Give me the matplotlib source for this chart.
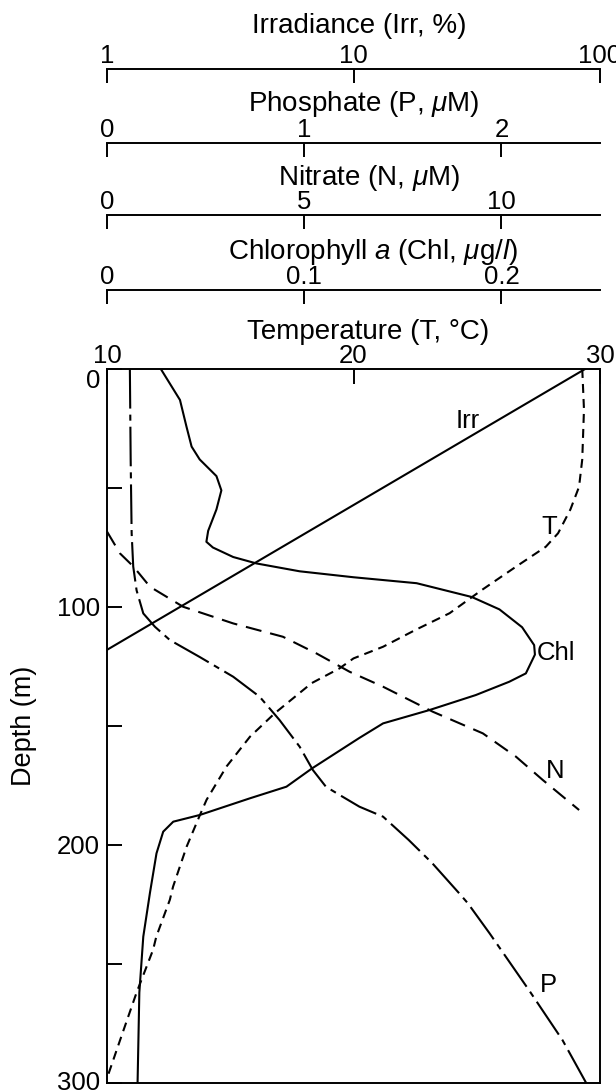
import matplotlib
matplotlib.use("Agg")
import matplotlib.pyplot as plt
from matplotlib.ticker import NullLocator, FixedLocator, FixedFormatter

plt.rcParams['font.family'] = ['Liberation Sans', 'DejaVu Sans']
plt.rcParams['mathtext.fontset'] = 'custom'
plt.rcParams['mathtext.rm'] = 'Liberation Sans'
plt.rcParams['mathtext.it'] = 'Liberation Sans:italic'

# ---------------- data ----------------
# Irradiance (% of surface), log scale
irr_depth = [0, 118]
irr_val = [87, 1.0]

# Chlorophyll a (ug/l)
chl_depth = [0, 13, 24.2, 32.6, 38, 45, 51, 59, 68, 72.6, 75, 79, 81.7, 85, 87.5,
             90, 95.8, 101, 108.5, 116, 120, 127.9, 131.4, 137, 143.3, 148.9, 155,
             167.8, 175.5, 180.4, 187.4, 190.2, 194.4, 203.5, 220, 238.5, 262, 300]
chl_val = [0.0273, 0.037, 0.0403, 0.0429, 0.047, 0.0555, 0.058, 0.0555, 0.0513, 0.0504,
           0.0537, 0.064, 0.0758, 0.0977, 0.125, 0.157, 0.185, 0.199, 0.2105, 0.2166,
           0.217, 0.2124, 0.204, 0.187, 0.1635, 0.14, 0.128, 0.104, 0.091, 0.0724,
           0.047, 0.0336, 0.0285, 0.0251, 0.0218, 0.0184, 0.0164, 0.0155]

# Temperature (deg C)
t_depth = [0, 17, 38, 49.5, 59, 69, 74.7, 83, 92.9, 102.6, 109.7, 116.7, 121.6, 125.8,
           132, 144.7, 154.5, 167, 181, 187.4, 200.7, 217.5, 223, 238.5, 244, 262, 282, 298]
t_val = [29.28, 29.35, 29.28, 29.15, 28.8, 28.3, 27.8, 26.6, 25.2, 23.9, 22.5, 21.2, 20.0,
         19.43, 18.3, 16.8, 15.8, 14.85, 14.04, 13.77, 13.23, 12.68, 12.55, 12.0, 11.87,
         11.2, 10.53, 10.0]

# Nitrate (uM)
n_depth = [68.3, 77.5, 83, 91.5, 99.9, 106.9, 112.5, 119.5, 127.2, 133.5, 144, 153.1,
           162.9, 172.7, 185.3]
n_val = [0, 0.33, 0.67, 1.09, 1.93, 3.2, 4.46, 5.31, 6.15, 7.0, 8.26, 9.53, 10.37,
         11.05, 11.97]

# Phosphate (uM)
p_depth = [0, 38, 69, 83, 93, 102.7, 108.3, 113.9, 121, 129.3, 137.7, 147.5, 158.7,
           168.5, 175.5, 179, 183.9, 188.1, 197.9, 207.7, 220.3, 224.5, 237.1, 261, 282, 300]
p_val = [0.116, 0.12, 0.125, 0.133, 0.15, 0.184, 0.243, 0.319, 0.47, 0.64, 0.774, 0.875,
         0.977, 1.044, 1.11, 1.18, 1.28, 1.40, 1.53, 1.65, 1.786, 1.83, 1.94, 2.14, 2.31, 2.43]

# axis ticks
t_ticks = [10, 20, 30]
depth_major = [0, 100, 200, 300]
depth_minor = [50, 150, 250]
irr_ticks = [1, 10, 100]
p_ticks = [0, 1, 2]
n_ticks = [0, 5, 10]
chl_ticks = [0, 0.1, 0.2]
chl_ticklabels = ['0', '0.1', '0.2']

# ---------------- figure ----------------
W, H = 616, 1092
fig = plt.figure(figsize=(W / 100, H / 100), dpi=100)

def fx(px):
    return px / W

def fy(py):
    return 1 - py / H

LEFT, RIGHT, TOP, BOTTOM = 107, 600, 369, 1083
LW = 1.5
FS = 18.5

ax = fig.add_axes([fx(LEFT), fy(BOTTOM), (RIGHT - LEFT) / W, (BOTTOM - TOP) / H])
ax.set_xlim(10, 30)
ax.set_ylim(300, 0)

# twin axes for the other variables (created first: twiny resets tick sides)
a_irr = ax.twiny()
a_irr.set_xscale('log')
a_irr.set_xlim(1, 100)
a_irr.axis('off')

a_chl = ax.twiny()
a_chl.set_xlim(0, 0.25)
a_chl.axis('off')

a_n = ax.twiny()
a_n.set_xlim(0, 12.5)
a_n.axis('off')

a_p = ax.twiny()
a_p.set_xlim(0, 2.5)
a_p.axis('off')

for s in ax.spines.values():
    s.set_linewidth(1.4)
ax.xaxis.set_ticks_position('top')
ax.xaxis.set_label_position('top')
ax.set_xticks(t_ticks)
ax.set_xticklabels([str(v) for v in t_ticks])
ax.tick_params(axis='x', direction='in', length=11, width=1.4, pad=0.5,
               labelsize=FS, top=True, bottom=False, labeltop=True, labelbottom=False)
ax.set_yticks(depth_major)
ax.set_yticklabels([str(v) for v in depth_major])
ax.set_yticks(depth_minor, minor=True)
ax.tick_params(axis='y', which='both', direction='in', length=11, width=1.4,
               pad=5, labelsize=FS, right=False)
ax.set_ylabel('Depth (m)', fontsize=19.5)
ax.yaxis.set_label_coords((37 - LEFT) / (RIGHT - LEFT), 0.5)
ylabs = ax.get_yticklabels()
ylabs[0].set_va('top')
ylabs[-1].set_va('center')

# curves
ax.plot(t_val, t_depth, color='black', lw=LW, dashes=(4.3, 2.9))
a_irr.plot(irr_val, irr_depth, color='black', lw=LW)
a_chl.plot(chl_val, chl_depth, color='black', lw=LW)
a_n.plot(n_val, n_depth, color='black', lw=LW, dashes=(7.7, 4.3))
a_p.plot(p_val, p_depth, color='black', lw=LW, dashes=(19, 2.9, 2.9, 2.9))

# curve labels (temperature / depth coordinates)
lab_fs = 18.5
ax.text(24.62, 24.8, 'Irr', ha='center', va='baseline', fontsize=lab_fs)
ax.text(27.94, 69.3, 'T', ha='center', va='baseline', fontsize=lab_fs)
ax.text(28.2, 122.3, 'Chl', ha='center', va='baseline', fontsize=lab_fs)
ax.text(28.17, 171.8, 'N', ha='center', va='baseline', fontsize=lab_fs)
ax.text(27.9, 261.6, 'P', ha='center', va='baseline', fontsize=lab_fs)

# ---------------- top scale bars ----------------
def scale_bar(yline, xlim, ticks, labels, log=False):
    h = 0.0002
    sa = fig.add_axes([fx(LEFT), fy(yline) - h, (RIGHT - LEFT) / W, h])
    sa.patch.set_visible(False)
    if log:
        sa.set_xscale('log')
    sa.set_xlim(*xlim)
    for k in ('left', 'right', 'bottom'):
        sa.spines[k].set_visible(False)
    sa.spines['top'].set_linewidth(1.4)
    sa.yaxis.set_major_locator(NullLocator())
    sa.yaxis.set_minor_locator(NullLocator())
    sa.xaxis.tick_top()
    sa.xaxis.set_major_locator(FixedLocator(ticks))
    sa.xaxis.set_major_formatter(FixedFormatter(labels))
    sa.xaxis.set_minor_locator(NullLocator())
    sa.tick_params(axis='x', direction='in', length=10, width=1.4, pad=0.5,
                   labelsize=FS, top=True, bottom=False)
    return sa

scale_bar(69, (1, 100), irr_ticks, [str(v) for v in irr_ticks], log=True)
scale_bar(143, (0, 2.5), p_ticks, [str(v) for v in p_ticks])
scale_bar(215, (0, 12.5), n_ticks, [str(v) for v in n_ticks])
scale_bar(290, (0, 0.25), chl_ticks, chl_ticklabels)

# titles
TFS = 20
fig.text(fx(252), fy(33), 'Irradiance (Irr, %)', ha='left', va='baseline', fontsize=TFS)
fig.text(fx(248), fy(111), r'Phosphate (P, $\mu$M)', ha='left', va='baseline', fontsize=TFS)
fig.text(fx(278), fy(185), r'Nitrate (N, $\mu$M)', ha='left', va='baseline', fontsize=TFS)
fig.text(fx(228), fy(259), r'Chlorophyll $a$ (Chl, $\mu$g/$l$)', ha='left', va='baseline', fontsize=TFS)
fig.text(fx(247), fy(339), 'Temperature (T, °C)', ha='left', va='baseline', fontsize=TFS)

fig.savefig('out.png', dpi=100)
